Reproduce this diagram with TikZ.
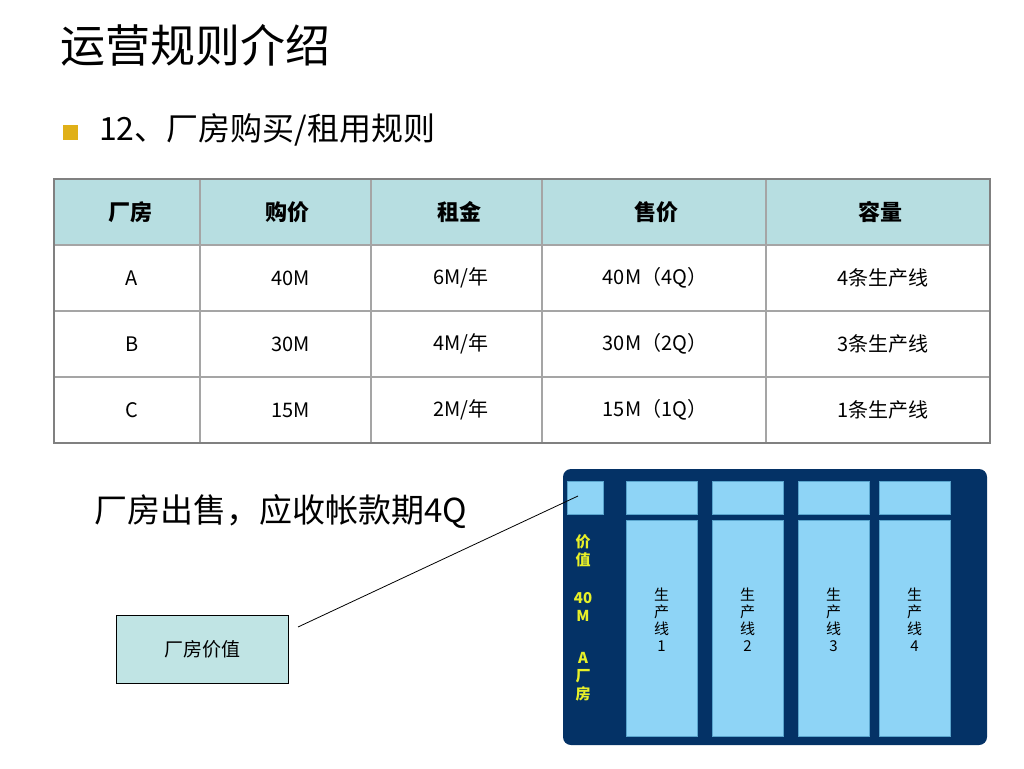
\documentclass[tikz,border=0pt]{standalone}
\usepackage{fontspec}
\setmainfont{Noto Sans CJK SC}
\usetikzlibrary{positioning}
\definecolor{headfill}{RGB}{183,222,225}
\definecolor{gridgray}{RGB}{165,165,165}
\definecolor{bordergray}{RGB}{128,128,128}
\definecolor{bulletgold}{RGB}{224,176,24}
\definecolor{boxfill}{RGB}{192,228,228}
\definecolor{navy}{RGB}{4,50,102}
\definecolor{lineblue}{RGB}{142,212,246}
\definecolor{lineedge}{RGB}{90,165,205}
\definecolor{labelyellow}{RGB}{232,240,40}

\begin{document}
\begin{tikzpicture}[x=1pt,y=-1pt,
	head/.style={font=\fontsize{22}{26}\selectfont\bfseries},
	cell/.style={font=\fontsize{20}{24}\selectfont},
	gridline/.style={draw=gridgray, line width=1.2pt},
	lb/.style={fill=lineblue, draw=lineedge, line width=0.6pt, inner sep=0pt},
	linetxt/.style={align=center, font=\fontsize{15}{17}\selectfont},
	ylw/.style={align=center, text=labelyellow, font=\fontsize{15}{18}\selectfont\bfseries}]
	\useasboundingbox (0,0) rectangle (1024,768);
	\fill[white] (0,0) rectangle (1024,768);

	% title and bullet
	\node[anchor=west, inner sep=0pt, font=\fontsize{45}{50}\selectfont] (title) at (60,45) {运营规则介绍};
	\node[fill=bulletgold, minimum size=15pt, inner sep=0pt] (dot) at (70.5,132.5) {};
	\node[anchor=west, inner sep=0pt, font=\fontsize{32}{36}\selectfont] (sub) at (99,130) {12、厂房购买/租用规则};

	% table
	\fill[headfill] (54,179) rectangle (990,245);
	\foreach \x in {200,371,542,766}
		\draw[gridline] (\x,179) -- (\x,443);
	\foreach \y in {245,311,377}
		\draw[gridline] (54,\y) -- (990,\y);
	\draw[draw=bordergray, line width=2.5pt] (54,179) rectangle (990,443);

	\foreach \x/\t [count=\i] in {130/厂房, 287/购价, 459/租金, 656/售价, 880/容量}
		\node[head] (h\i) at (\x,212) {\t};
	\foreach \y/\a/\b/\c/\d/\e [count=\r] in {
		278/A/40M/{6M/年}/40M（4Q）/4条生产线,
		344/B/30M/{4M/年}/30M（2Q）/3条生产线,
		410/C/15M/{2M/年}/15M（1Q）/1条生产线}{
		\node[cell] (c\r-1) at (132,\y) {\a};
		\node[cell] (c\r-2) at (291,\y) {\b};
		\node[cell] (c\r-3) at (461,\y) {\c};
		\node[cell] (c\r-4) at (655,\y) {\d};
		\node[cell] (c\r-5) at (883,\y) {\e};
	}

	\node[anchor=west, inner sep=0pt, font=\fontsize{33}{38}\selectfont] (sell) at (94,512) {厂房出售，应收帐款期4Q};

	% value box
	\node[draw, fill=boxfill, minimum width=172pt, minimum height=68pt, inner sep=0pt,
		font=\fontsize{19}{22}\selectfont] (valbox) at (202,649) {厂房价值};

	% plant panel
	\node[fill=navy, rounded corners=8pt, minimum width=424pt, minimum height=276pt] (plant) at (775,607) {};
	\node[lb, minimum width=36pt, minimum height=33pt] (valsq) at (585,497.5) {};
	\foreach \x [count=\i] in {661.5,747.5,833.5,914.5}{
		\node[lb, minimum width=71pt, minimum height=33pt] (top\i) at (\x,497.5) {};
		\node[lb, minimum width=71pt, minimum height=216pt] (line\i) at (\x,628) {};
		\node[linetxt] (lt\i) at (\x,620) {生\\产\\线\\\i};
	}
	\node[ylw] (val) at (583,551) {价\\值};
	\node[ylw] (amt) at (583,607) {40\\M};
	\node[ylw] (kind) at (583,677) {A\\厂\\房};

	% connector
	\coordinate (lnA) at (298,627);
	\coordinate (lnB) at (578,496);
	\draw[line width=0.8pt] (lnA) -- (lnB);
\end{tikzpicture}
\end{document}
